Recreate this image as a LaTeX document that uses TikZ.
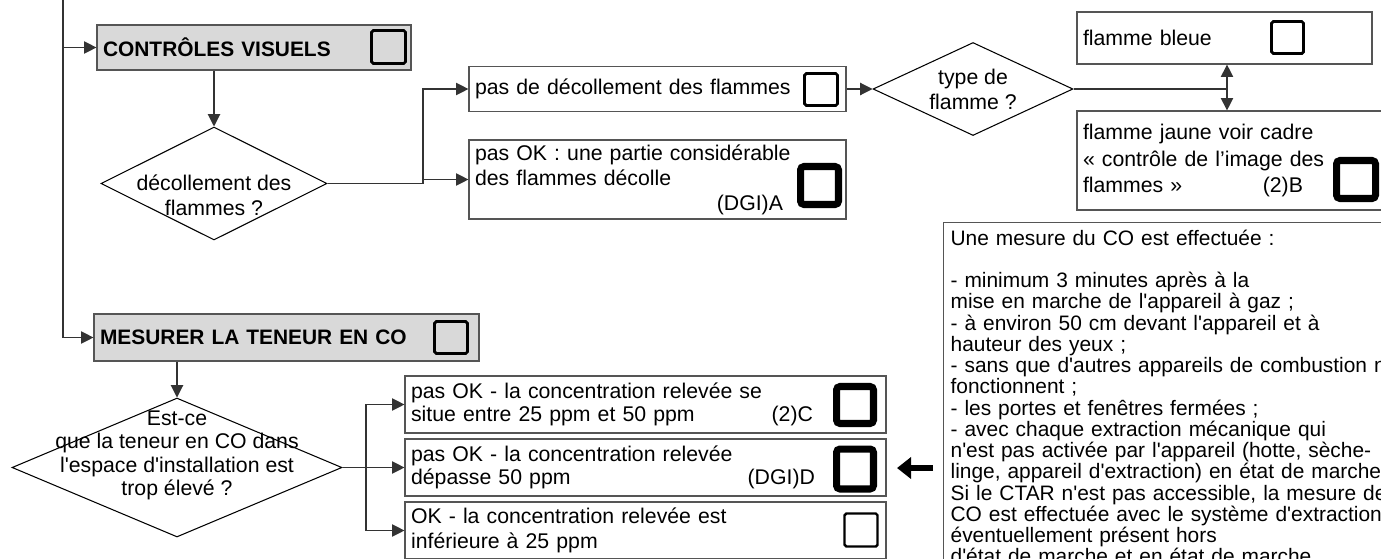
\documentclass[tikz,border=0pt]{standalone}
\usepackage{fontspec}
\setmainfont{Liberation Sans}[Ligatures=TeXOff]
\usepackage{tikz}
\usetikzlibrary{
    shapes.geometric,
    arrows.meta,
    positioning,
    calc,
}
\definecolor{headgray}{HTML}{D9D9D9}
\definecolor{boxgray}{HTML}{555555}
\definecolor{linegray}{HTML}{333333}
\newcommand{\bodyfont}{\fontsize{12.1}{14.2}\selectfont}
\newcommand{\refcode}[2]{\hspace*{\fill}#1\makebox[#2]{}}

\begin{document}
\begin{tikzpicture}[
    x=0.02cm, y=-0.02cm,
    box/.style     = {rectangle, draw=boxgray, line width=0.7pt,
                      inner xsep=0.12cm, inner ysep=0pt,
                      align=left, font=\bodyfont},
    hbox/.style    = {box, fill=headgray, font=\fontsize{11.9}{14.2}\selectfont\bfseries},
    cbox/.style    = {box, minimum width=9.62cm, minimum height=1.14cm,
                      text width=9.38cm, font=\fontsize{12.1}{13.2}\selectfont},
    tick/.style    = {rectangle, draw=black, line width=1.6pt,
                      rounded corners=1pt, inner sep=0pt,
                      minimum width=0.66cm, minimum height=0.66cm},
    tickbold/.style= {tick, line width=4pt, rounded corners=2pt},
    dia/.style     = {diamond, draw=black, line width=0.6pt, inner sep=0pt},
    dtext/.style   = {align=center, font=\bodyfont},
    conn/.style    = {draw=linegray, line width=0.6pt},
    arr/.style     = {conn, -{Triangle[length=7pt,width=7pt]}},
    bigarr/.style  = {-{Triangle[length=8pt,width=12pt]}, line width=3pt},
]

\useasboundingbox (0,0) rectangle (1381,558);
\clip (0,0) rectangle (1381,558);

%% -- Visual checks: top left ---------------------------------------------------
\node[hbox, minimum width=6.28cm, minimum height=0.9cm, text width=6.04cm]
    (cv) at (254,47.5) {CONTRÔLES VISUELS};
\node[tick, minimum width=0.68cm] (cbcv) at (388.5,47) {};

\node[dia, minimum width=4.52cm, minimum height=2.26cm,
      label={[dtext, yshift=-0.24cm]center:{décollement des\\flammes ?}}]
    (d1) at (214,183.5) {};

%% -- Flame lifting outcomes ----------------------------------------------------
\node[box, minimum width=7.54cm, minimum height=0.9cm, text width=7.3cm]
    (pdd) at (657.5,89) {pas de décollement des flammes};
\node[tick, minimum height=0.64cm] (cbpdd) at (821,89.5) {};

\node[box, minimum width=7.54cm, minimum height=1.58cm, text width=7.3cm]
    (pok1) at (657.5,179.5)
    {pas OK : une partie considérable\\des flammes décolle\\\refcode{(DGI)A}{1.14cm}};
\node[tickbold, minimum width=0.76cm, minimum height=0.76cm] (cbA) at (819.5,185.5) {};

%% -- Flame type ----------------------------------------------------------------
\node[dia, minimum width=4cm, minimum height=1.86cm,
      label={[dtext]center:{type de\\flamme ?}}]
    (d3) at (973,89) {};

\node[box, minimum width=5.9cm, minimum height=1.04cm, text width=5.66cm]
    (fb) at (1224.5,38) {flamme bleue};
\node[tick, minimum width=0.64cm, minimum height=0.64cm] (cbfb) at (1287.5,37.5) {};

\node[box, minimum width=6.36cm, minimum height=1.98cm, text width=6.12cm,
      font=\fontsize{12.1}{15}\selectfont]
    (fj) at (1236,160.5)
    {flamme jaune voir cadre\\«~contrôle de l’image des\\flammes~»\refcode{(2)B}{1.72cm}};
\node[tickbold, minimum width=0.78cm, minimum height=0.76cm] (cbfj) at (1356,179.5) {};

%% -- CO measurement note -------------------------------------------------------
\node[box, anchor=north west, inner xsep=0.14cm, inner ysep=0.14cm,
      text width=10cm, font=\fontsize{11.9}{12.1}\selectfont]
    (mco) at (943,222)
    {Une mesure du CO est effectuée :\\\mbox{}\\
     - minimum 3 minutes après à la\\
     mise en marche de l'appareil à gaz ;\\
     - à environ 50 cm devant l'appareil et à\\
     hauteur des yeux ;\\
     - sans que d'autres appareils de combustion ne\\
     fonctionnent ;\\
     - les portes et fenêtres fermées ;\\
     - avec chaque extraction mécanique qui\\
     n'est pas activée par l'appareil (hotte, sèche-\\
     linge, appareil d'extraction) en état de marche\\
     Si le CTAR n'est pas accessible, la mesure de\\
     CO est effectuée avec le système d'extraction\\
     éventuellement présent hors\\
     d'état de marche et en état de marche.};

%% -- CO content: bottom left ---------------------------------------------------
\node[hbox, minimum width=7.7cm, minimum height=0.94cm, text width=7.46cm]
    (mes) at (286.5,337.5) {MESURER LA TENEUR EN CO};
\node[tick, minimum height=0.64cm] (cbmes) at (451,337.5) {};

\node[dia, minimum width=6.6cm, minimum height=2.78cm,
      label={[dtext, yshift=0.24cm, font=\fontsize{12.1}{13.4}\selectfont]center:{Est-ce\\que la teneur en CO dans\\l'espace d'installation est\\trop élevé ?}}]
    (d2) at (177,467.5) {};

\node[cbox] (pokc) at (645.5,404.5)
    {pas OK - la concentration relevée se\\situe entre 25 ppm et 50 ppm\refcode{(2)C}{1.34cm}};
\node[tickbold, minimum width=0.74cm, minimum height=0.74cm] (cbC) at (855,405) {};

\node[cbox] (pokd) at (645.5,467.5)
    {pas OK - la concentration relevée\\dépasse 50 ppm\refcode{(DGI)D}{1.3cm}};
\node[tickbold, minimum width=0.74cm, minimum height=0.8cm] (cbD) at (855,469) {};

\node[cbox, font=\fontsize{12.1}{14.2}\selectfont] (okbox) at (645.5,530.5)
    {OK - la concentration relevée est\\inférieure à 25 ppm};
\node[tick, line width=1.4pt] (cbOK) at (861,530) {};

%% -- Connectors ----------------------------------------------------------------
\coordinate (trunk) at (63,-10);
\coordinate (sp1)   at (423,183.5);
\coordinate (sp2)   at (366,467.5);
\coordinate (sp3)   at (1227,89);
\coordinate (hintA) at (933,468);
\coordinate (hintB) at (897,468);

\draw[arr] (trunk) |- (mes.west);
\draw[arr] (trunk |- cv.west) -- (cv.west);
\draw[arr] (d1.north |- cv.south) -- (d1.north);

\draw[conn] (d1.east) -- (sp1);
\draw[arr]  (sp1) |- (pdd.west);
\draw[arr]  (sp1) |- (pok1.west);

\draw[arr]  (pdd.east) -- (d3.west);
\draw[conn] (d3.east) -- (sp3);
\draw[arr]  (sp3) -- (sp3 |- fb.south);
\draw[arr]  (sp3) -- (sp3 |- fj.north);

\draw[arr]  (d2.north |- mes.south) -- (d2.north);
\draw[conn] (d2.east) -- (sp2);
\draw[arr]  (sp2) |- (pokc.west);
\draw[arr]  (d2.east) -- (pokd.west);
\draw[arr]  (sp2) |- (okbox.west);

\draw[bigarr] (hintA) -- (hintB);

\end{tikzpicture}
\end{document}
